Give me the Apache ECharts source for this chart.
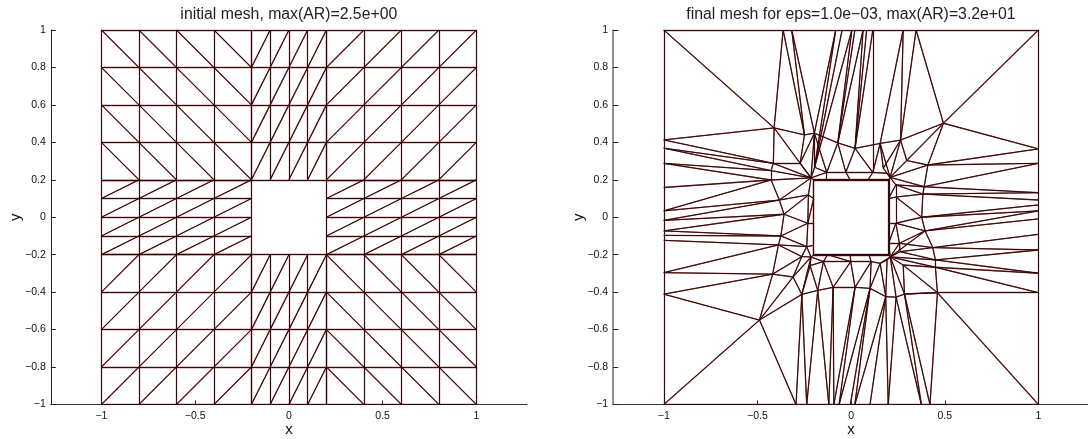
<!DOCTYPE html>
<html>
<head>
<meta charset="utf-8">
<style>html,body{margin:0;padding:0;background:#fff;overflow:hidden}#c{width:1088px;height:439px}</style>
<script src="https://cdn.jsdelivr.net/npm/echarts@6/dist/echarts.min.js"></script>
</head>
<body>
<div id="c"></div>
<script>
// ---------- initial mesh: grid lines ----------
const wideX = [-1, -0.8, -0.6, -0.4, -0.2, -0.1, 0, 0.1, 0.2, 0.4, 0.6, 0.8, 1];
const sideXLeft = [-1, -0.8, -0.6, -0.4, -0.2];
const sideXRight = [0.2, 0.4, 0.6, 0.8, 1];
const upperY = [0.2, 0.4, 0.6, 0.8, 1];
const lowerY = [-1, -0.8, -0.6, -0.4, -0.2];
const middleY = [-0.2, -0.1, 0, 0.1, 0.2];

// ---------- final mesh: nodes as [name, x, y] ----------
const topNodes = [['T1',-0.363],['T2',-0.317],['T3',-0.082],['T4',-0.048],['T5',0.004],['T6',0.020],['T7',0.064],['T8',0.083],['T9',0.116],['T10',0.278],['T11',0.347]];
const bottomNodes = [['B1',-0.294],['B2',-0.237],['B3',-0.119],['B4',-0.092],['B5',-0.064],['B6',-0.004],['B7',0.020],['B8',0.101],['B9',0.198],['B10',0.375],['B11',0.421]];
const leftNodes = [['L1',0.413],['L2',0.369],['L3',0.288],['L4',0.159],['L5',0.034],['L6',-0.017],['L7',-0.073],['L8',-0.097],['L9',-0.123],['L10',-0.296],['L11',-0.411]];
const rightNodes = [['R1',0.365],['R2',0.288],['R3',0.131],['R4',0.092],['R5',0.066],['R6',0.034],['R7',-0.009],['R8',-0.091],['R9',-0.175],['R10',-0.299],['R11',-0.403]];
const innerNodes = [
 ['CTL',-1,1],['CTR',1,1],['CBR',1,-1],['CBL',-1,-1],
 ['A',-0.411,0.477],['B',-0.249,0.440],['C',-0.196,0.449],['D',-0.071,0.397],['E',0.021,0.368],['F',0.155,0.394],['G',0.264,0.412],['H',0.493,0.502],
 ['I',0.297,0.303],['J',0.410,0.279],['K',0.390,0.163],['LL',0.383,0.124],['M',0.377,0.000],['N',0.395,-0.073],['O',0.436,-0.162],['P',0.450,-0.228],['Q',0.450,-0.267],['S',0.461,-0.403],
 ['a',-0.263,-0.412],['b',-0.178,-0.391],['c',-0.096,-0.374],['d',0.021,-0.374],['e',0.101,-0.380],['f',0.185,-0.424],['g',0.240,-0.427],['h',0.285,-0.410],
 ['X',-0.489,-0.549],['Z',-0.310,-0.319],
 ['n1',-0.415,0.288],['n2',-0.427,0.249],['n3',-0.427,0.199],['n4',-0.383,0.092],['n5',-0.358,0.016],['n6',-0.375,-0.100],['n7',-0.388,-0.148],['n8',-0.419,-0.304],
 ['m1',-0.272,0.288],['m2',-0.228,0.119],['m3',-0.231,-0.032],['m4',-0.237,-0.157],
 ['q',-0.195,0.267],['p1',-0.130,0.240],['p2',-0.028,0.240],['p3',0.116,0.239],['p4',0.191,0.235],['p5',0.172,0.262],
 ['r1',0.239,0.173],['r2',0.239,0.108],['r3',0.239,-0.032],['r4',0.258,-0.139],['r5',0.262,-0.184],['r6',0.278,-0.255],
 ['u1',-0.219,-0.258],['u2',-0.148,-0.237],['u3',-0.002,-0.237],['u4',0.107,-0.237],['u5',0.155,-0.246],['u6',0.192,-0.228],
 ['w1',-0.263,-0.210],['TLo',-0.214,0.210],['TRo',0.208,0.213],['BRo',0.209,-0.212],['BLo',-0.214,-0.212],
 ['TLc',-0.2,0.2],['TRc',0.2,0.2],['BRc',0.2,-0.2],['BLc',-0.2,-0.2],
 ['TLb',-0.204,0.204],['TRb',0.204,0.204],['BRb',0.204,-0.204],['BLb',-0.204,-0.204],
 ['TS1',-0.130,0.2],['TS2',-0.005,0.2],['TS3',0.090,0.2],['BS1',-0.125,-0.2],['BS2',-0.005,-0.2],['BS3',0.095,-0.2],
 ['LS1',-0.2,0.1],['LS2',-0.2,-0.03],['LS3',-0.2,-0.15],['RS1',0.2,0.1],['RS2',0.2,-0.03],['RS3',0.2,-0.14]
];
const outlineEdges = "CTL-CTR CTR-CBR CBR-CBL CBL-CTL TLc-TRc TRc-BRc BRc-BLc BLc-TLc TLb-TRb TRb-BRb BRb-BLb BLb-TLb TLo-TLb TRo-TRb BRo-BRb BLo-BLb";
const upperEdges = "CTL-A A-L1 A-n1 A-B B-C C-D D-E E-F F-G G-H H-CTR H-R1 H-T11 A-T1 T1-B T2-B T2-C T3-C T3-q T4-q T5-q T5-D T6-D T7-D T7-E T8-E T9-E T9-p3 T10-F T10-G T11-G A-TLo B-m1 C-TLo C-q C-p1 p1-D p1-p2 D-p2 E-p2 E-p3 p2-p3 p3-F p3-p4 F-p5 F-TRo G-p5 G-I G-TRo I-TRo I-H J-H q-TLo q-p1 p1-TLo p1-TS1 p2-TS2 p3-TS3 p4-TRo p5-TRo m1-TLo m1-C";
const rightEdges = "I-J J-R1 J-R2 J-K K-R2 K-R3 K-LL LL-R3 LL-R4 LL-M M-R5 M-R6 M-N N-R6 N-R7 N-O O-R8 O-R9 O-P P-R9 P-R10 P-Q Q-R10 Q-R11 Q-S S-R11 S-CBR TRo-J TRo-K TRo-r1 r1-K r1-LL r1-r2 r2-LL r2-M r2-r3 r3-M r3-N r3-r4 r4-N r4-O r4-r5 r5-O r5-P BRo-N BRo-r4 BRo-r5 BRo-P BRo-Q r1-RS1 r2-RS1 r3-RS2 r3-RS3 r4-RS3 BRo-RS3";
const lowerEdges = "S-B11 S-h h-B11 h-B10 g-B10 g-B9 f-B9 f-B8 f-B7 e-B7 e-B6 e-B5 d-B5 d-B4 c-B4 c-B3 b-B3 b-B2 a-B2 a-B1 X-B1 X-CBL a-b b-c c-d d-e e-f f-g g-h h-S u1-a u1-b u2-b u2-c u3-c u3-d u4-d u4-e u5-e u5-f u6-f BRo-g BRo-h r6-h r6-S r6-Q r6-BRo u5-BRo u6-BRo u1-BLo u2-BLo u1-u2 u2-u3 u3-u4 u4-u5 u5-u6 u2-BS1 u3-BS2 u4-BS3 u3-BS1";
const leftEdges = "X-L11 X-n8 X-Z X-a L11-n8 L10-n8 L10-n7 L9-n7 L8-n6 L7-n6 L7-n5 L6-n5 L6-n4 L5-n4 L5-n3 L4-n3 L3-n3 L3-n2 L2-n2 L2-n1 L1-n1 n1-m1 n1-TLo n2-TLo n3-TLo n1-n2 n2-n3 n3-n4 n4-n5 n5-n6 n6-n7 n7-n8 n8-Z Z-a n4-TLo n4-m2 n5-m2 n5-m3 n6-m3 n6-m4 n7-m4 n7-w1 n8-w1 m2-TLo m2-m3 m3-m4 m2-LS1 m3-LS2 m3-LS1 m4-LS3 m4-BLo m4-w1 w1-BLo Z-w1 Z-BLo a-BLo";

const xTicks = [-1, -0.5, 0, 0.5, 1];
const titles = ['initial mesh, max(AR)=2.5e+00', 'final mesh for eps=1.0e\u221203, max(AR)=3.2e+01'];

// ---------- build segments ----------
function initialSegments() {
  const out = [];
  const cell = (xs, ys, rising) => {
    for (let i = 0; i < xs.length; i++) out.push([[xs[i], ys[0]], [xs[i], ys[ys.length - 1]]]);
    for (let j = 0; j < ys.length; j++) out.push([[xs[0], ys[j]], [xs[xs.length - 1], ys[j]]]);
    for (let i = 0; i + 1 < xs.length; i++) for (let j = 0; j + 1 < ys.length; j++) {
      out.push(rising ? [[xs[i], ys[j]], [xs[i + 1], ys[j + 1]]] : [[xs[i], ys[j + 1]], [xs[i + 1], ys[j]]]);
    }
  };
  const midX = wideX.slice(4, 9);
  cell(sideXLeft, upperY, false); cell(midX, upperY, true); cell(sideXRight, upperY, true);
  cell(sideXLeft, middleY, true); cell(sideXRight, middleY, true);
  cell(sideXLeft, lowerY, true); cell(midX, lowerY, true); cell(sideXRight, lowerY, false);
  return out;
}
function finalSegments() {
  const p = {};
  topNodes.forEach(n => p[n[0]] = [n[1], 1]);
  bottomNodes.forEach(n => p[n[0]] = [n[1], -1]);
  leftNodes.forEach(n => p[n[0]] = [-1, n[1]]);
  rightNodes.forEach(n => p[n[0]] = [1, n[1]]);
  innerNodes.forEach(n => p[n[0]] = [n[1], n[2]]);
  const all = [outlineEdges, upperEdges, rightEdges, lowerEdges, leftEdges].join(' ').split(/\s+/);
  return all.map(e => { const s = e.split('-'); return [p[s[0]], p[s[1]]]; });
}

const FONT = '"Liberation Sans", Arial, Helvetica, sans-serif';
const GRIDS = [{ left: 50.8, top: 30, width: 476.2, height: 374.5 }, { left: 613.2, top: 30, width: 475.8, height: 374.5 }];
const minusFmt = v => String(v).replace('-', '\u2212');

function axisBase(name, gap, axisCol, axisWidth) {
  return {
    type: 'value', name, nameLocation: 'middle', nameGap: gap, nameMoveOverlap: false,
    nameTextStyle: { fontFamily: FONT, fontSize: 15, color: '#111' },
    axisLine: { show: true, onZero: false, lineStyle: { color: axisCol, width: axisWidth } },
    axisTick: { show: true, inside: true, length: 5, lineStyle: { color: '#222', width: 1 } },
    axisLabel: { fontFamily: FONT, fontSize: 10.5, color: '#111', margin: 5, formatter: minusFmt, hideOverlap: false, showMinLabel: true, showMaxLabel: true },
    splitLine: { show: false }
  };
}
const xAxes = GRIDS.map((g, i) => {
  const a = axisBase('x', 18, '#333', 1);
  a.gridIndex = i; a.min = -1.27; a.max = 1.27;
  a.axisTick.customValues = xTicks;
  a.axisTick.length = 4;
  a.axisLabel.customValues = xTicks;
  a.axisLabel.margin = 6;
  return a;
});
const yAxes = GRIDS.map((g, i) => {
  const a = axisBase('y', 27, i ? '#777' : '#222', i ? 1.6 : 1);
  a.gridIndex = i; a.min = -1; a.max = 1; a.interval = 0.2;
  a.nameRotate = 90;
  a.axisLabel.formatter = v => minusFmt(+v.toFixed(1));
  return a;
});
const layers = [{ color: '#8a3a3a', width: 1.3 }, { color: '#2a0505', width: 0.9 }];
const segs = [initialSegments(), finalSegments()];
const series = [];
segs.forEach((s, i) => layers.forEach(l => series.push({
  type: 'lines', coordinateSystem: 'cartesian2d', xAxisIndex: i, yAxisIndex: i, polyline: false,
  silent: true, animation: false, lineStyle: { color: l.color, width: l.width, opacity: 1, curveness: 0 },
  data: s.map(c => ({ coords: c }))
})));

const chart = echarts.init(document.getElementById('c'), null, { renderer: 'canvas' });
chart.setOption({
  backgroundColor: '#fff', animation: false,
  title: titles.map((t, i) => ({ text: t, left: (i ? 851 : 288.8), top: 7, padding: 0, textAlign: 'center',
    textStyle: { fontFamily: FONT, fontSize: 15.8, fontWeight: 'normal', color: '#222' } })),
  grid: GRIDS.map(g => Object.assign({ containLabel: false, outerBoundsMode: 'none' }, g)),
  xAxis: xAxes, yAxis: yAxes, series
});
</script>
</body>
</html>
